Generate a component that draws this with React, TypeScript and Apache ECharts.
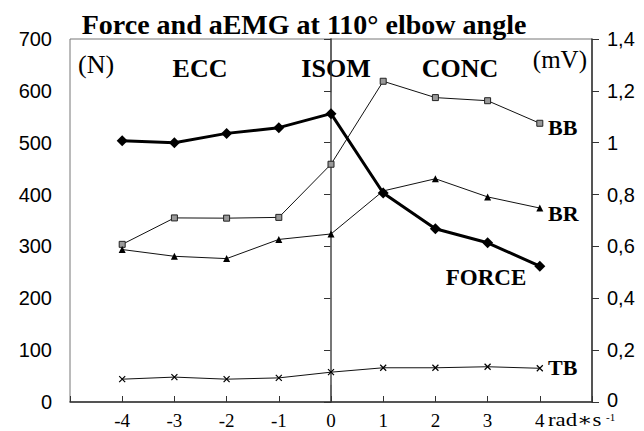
import React, { useEffect, useRef } from "react";
import * as echarts from "echarts";

const xValues = [-4, -3, -2, -1, 0, 1, 2, 3, 4];
const forceN = [504, 500, 518, 529, 556, 403, 334, 307, 262];
const bbMV = [0.608, 0.71, 0.709, 0.712, 0.917, 1.237, 1.174, 1.162, 1.075];
const brMV = [0.588, 0.562, 0.553, 0.627, 0.648, 0.814, 0.861, 0.791, 0.748];
const tbMV = [0.088, 0.096, 0.088, 0.093, 0.115, 0.132, 0.132, 0.136, 0.13];
const isomLine = [[0, 597], [0, 33]];

const SERIF = "'Liberation Serif', 'DejaVu Serif', serif";
const SANS = "'Liberation Sans', Arial, sans-serif";

const pair = (ys: number[]) => xValues.map((x, i) => [x, ys[i]]);

export default function App() {
  const ref = useRef<HTMLDivElement>(null);
  useEffect(() => {
    if (!ref.current) return;
    const chart = echarts.init(ref.current, undefined, { renderer: "svg" });
    const txt = (
      text: string,
      x: number,
      y: number,
      size: number,
      bold: boolean,
      align = "center",
      extra: Record<string, unknown> = {}
    ) => ({
      type: "text",
      x,
      y,
      ...extra,
      style: {
        text,
        fontFamily: SERIF,
        fontSize: size,
        fontWeight: bold ? "bold" : "normal",
        fill: "#000",
        align,
        verticalAlign: "middle",
        lineHeight: Math.round(size * 0.8),
      },
    });
    chart.setOption({
      animation: false,
      backgroundColor: "#fff",
      title: {
        text: "Force and aEMG at 110° elbow angle",
        left: 304,
        top: 10,
        padding: 0,
        textAlign: "center",
        textStyle: { fontFamily: SERIF, fontSize: 28, fontWeight: "bold", color: "#000" },
      },
      grid: { left: 70, right: 52, top: 39, bottom: 29, show: true, borderColor: "#777", borderWidth: 1 },
      xAxis: {
        type: "value",
        min: -5,
        max: 5,
        interval: 1,
        splitLine: { show: false },
        axisLine: { lineStyle: { color: "#333", width: 1.5 } },
        axisTick: { inside: true, length: 6, lineStyle: { color: "#333" } },
        axisLabel: {
          fontFamily: SERIF,
          fontSize: 19,
          lineHeight: 16,
          color: "#000",
          margin: 10,
          formatter: (v: number) => (v <= -5 || v >= 5 ? "" : String(v)),
        },
      },
      yAxis: [
        {
          type: "value",
          min: 0,
          max: 700,
          interval: 100,
          splitLine: { show: false },
          axisLine: { show: true, lineStyle: { color: "#333", width: 1.5 } },
          axisTick: { show: true, length: 7, lineStyle: { color: "#333" } },
          axisLabel: { fontFamily: SANS, fontSize: 20, color: "#000", margin: 18 },
        },
        {
          type: "value",
          min: 0,
          max: 1.4,
          interval: 0.2,
          position: "right",
          splitLine: { show: false },
          axisLine: { show: true, lineStyle: { color: "#333", width: 1.5 } },
          axisTick: { show: true, length: 7, lineStyle: { color: "#333" } },
          axisLabel: {
            fontFamily: SANS,
            fontSize: 20,
            lineHeight: 14,
            color: "#000",
            margin: 15,
            formatter: (v: number) => {
              const s = String(Math.round(v * 10) / 10).replace(".", ",");
              return v === 0 ? "{z|" + s + "}" : s;
            },
            rich: {
              z: { fontFamily: SANS, fontSize: 20, lineHeight: 14, color: "#000", padding: [0, 0, 5, 0] },
            },
          },
        },
      ],
      series: [
        {
          name: "ISOM",
          type: "line",
          yAxisIndex: 0,
          data: isomLine,
          symbol: "none",
          lineStyle: { color: "#888", width: 1 },
          z: 1,
        },
        {
          name: "BB",
          type: "line",
          yAxisIndex: 1,
          data: pair(bbMV),
          symbol: "rect",
          symbolSize: 6,
          itemStyle: { color: "#999", borderColor: "#222", borderWidth: 1 },
          lineStyle: { color: "#111", width: 1 },
        },
        {
          name: "BR",
          type: "line",
          yAxisIndex: 1,
          data: pair(brMV),
          symbol: "triangle",
          symbolSize: 7,
          itemStyle: { color: "#000" },
          lineStyle: { color: "#111", width: 1 },
        },
        {
          name: "TB",
          type: "line",
          yAxisIndex: 1,
          data: pair(tbMV),
          symbol: "path://M0,0L10,10M10,0L0,10",
          symbolSize: 6,
          itemStyle: { color: "#000", borderColor: "#000", borderWidth: 1.2 },
          lineStyle: { color: "#111", width: 1 },
        },
        {
          name: "FORCE",
          type: "line",
          yAxisIndex: 0,
          data: pair(forceN),
          symbol: "diamond",
          symbolSize: 11,
          itemStyle: { color: "#000" },
          lineStyle: { color: "#000", width: 3 },
          z: 5,
        },
      ],
      graphic: [
        txt("(N)", 78, 64, 26, false, "left"),
        txt("ECC", 200, 68, 26, true),
        txt("ISOM", 336, 68, 26, true),
        txt("CONC", 460, 68, 26, true),
        txt("(mV)", 587, 59, 25, false, "right"),
        txt("BB", 548, 127, 22, true, "left"),
        txt("BR", 548, 213, 22, true, "left"),
        txt("FORCE", 486, 277, 23, true),
        txt("TB", 548, 367, 22, true, "left"),
        txt("rad∗s", 548, 420, 19, false, "left", { scaleX: 1.2 }),
        txt("-1", 606, 417, 11, false, "left"),
      ],
    });
    return () => chart.dispose();
  }, []);
  return <div ref={ref} style={{ position: "fixed", left: 0, top: 0, width: 644, height: 431 }} />;
}
